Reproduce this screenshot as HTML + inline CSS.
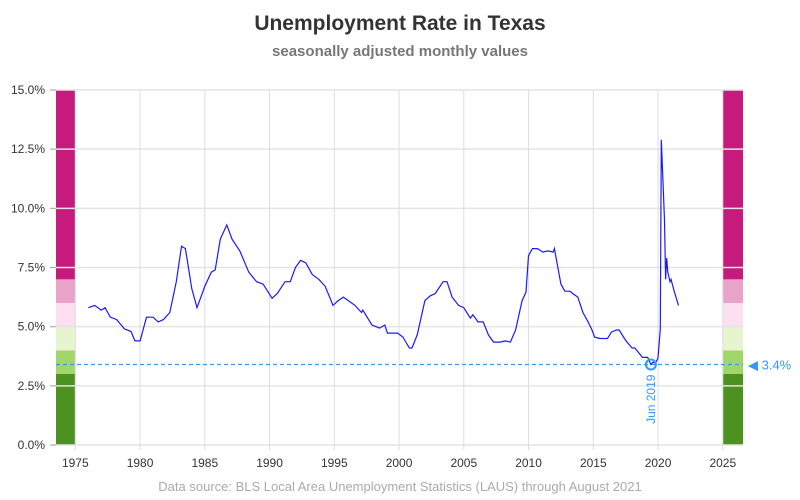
<!DOCTYPE html>
<html><head><meta charset="utf-8"><style>
body{margin:0;background:#fff}
svg{display:block;font-family:"Liberation Sans",sans-serif}
</style></head><body>
<svg id="chart" width="800" height="500" viewBox="0 0 800 500" xmlns="http://www.w3.org/2000/svg">
<text x="400" y="30" text-anchor="middle" font-size="21" font-weight="bold" fill="#333">Unemployment Rate in Texas</text>
<text x="400" y="56" text-anchor="middle" font-size="15" font-weight="bold" fill="#777">seasonally adjusted monthly values</text>
<g id="bands"></g>
<g id="grid"></g>
<g id="series"></g>
<text x="400" y="491" text-anchor="middle" font-size="13" fill="#aaa">Data source: BLS Local Area Unemployment Statistics (LAUS) through August 2021</text>
</svg>
<script>
const years=[1976.0,1976.5,1977.0,1977.3,1977.7,1978.2,1978.8,1979.3,1979.6,1980.0,1980.5,1981.0,1981.4,1981.8,1982.3,1982.8,1983.2,1983.5,1984.0,1984.4,1985.0,1985.5,1985.8,1986.2,1986.7,1987.1,1987.7,1988.4,1989.0,1989.5,1990.2,1990.6,1991.2,1991.6,1992.0,1992.4,1992.8,1993.3,1993.8,1994.3,1994.9,1995.3,1995.7,1996.6,1997.1,1997.2,1997.9,1998.5,1998.9,1999.1,1999.9,2000.3,2000.8,2001.0,2001.4,2002.0,2002.4,2002.8,2003.4,2003.7,2004.1,2004.6,2005.0,2005.5,2005.7,2006.1,2006.5,2006.9,2007.3,2007.8,2008.2,2008.6,2009.0,2009.5,2009.8,2010.0,2010.3,2010.7,2011.1,2011.5,2011.9,2012.0,2012.3,2012.5,2012.8,2013.2,2013.4,2013.8,2014.2,2014.6,2014.9,2015.1,2015.5,2015.9,2016.1,2016.4,2016.8,2017.0,2017.4,2017.6,2018.0,2018.2,2018.4,2018.8,2019.2,2019.45,2019.6,2019.8,2020.0,2020.17,2020.25,2020.5,2020.58,2020.67,2020.75,2020.92,2021.0,2021.25,2021.58];
const rates=[5.8,5.9,5.7,5.8,5.4,5.3,4.9,4.8,4.4,4.4,5.4,5.4,5.2,5.3,5.6,6.9,8.4,8.3,6.6,5.8,6.7,7.3,7.4,8.7,9.3,8.7,8.2,7.3,6.9,6.8,6.2,6.4,6.9,6.9,7.5,7.8,7.7,7.2,7.0,6.7,5.9,6.1,6.25,5.9,5.6,5.7,5.07,4.94,5.07,4.73,4.73,4.56,4.1,4.1,4.65,6.1,6.3,6.4,6.9,6.9,6.25,5.9,5.8,5.36,5.5,5.2,5.2,4.65,4.35,4.35,4.4,4.35,4.86,6.1,6.46,8.0,8.3,8.3,8.15,8.2,8.15,8.3,7.4,6.8,6.5,6.5,6.4,6.25,5.6,5.2,4.86,4.56,4.5,4.5,4.5,4.77,4.86,4.86,4.5,4.35,4.1,4.1,3.97,3.7,3.7,3.4,3.5,3.46,3.67,4.9,12.9,9.5,7.0,7.9,7.3,6.9,7.0,6.5,5.9];
const yTicks=[0,2.5,5,7.5,10,12.5,15];
const yTickLabels=["0.0%","2.5%","5.0%","7.5%","10.0%","12.5%","15.0%"];
const xTicks=[1975,1980,1985,1990,1995,2000,2005,2010,2015,2020,2025];
const bandEdges=[0,3,4,5,6,7,15];
const bandColors=["#4d9221","#a1d76a","#e6f5d0","#fde0ef","#e9a3c9","#c51b7d"];
const refValue=3.4, refYear=2019.45, refLabel="Jun 2019";
const NS="http://www.w3.org/2000/svg";
const X0=56,X1=743,Y0=445,Y1=90;
const sx=y=>75.3+(y-1975)*12.95;
const sy=v=>Y0-(v/15)*(Y0-Y1);
function mk(tag,attrs,parent,txt){const e=document.createElementNS(NS,tag);for(const k in attrs)e.setAttribute(k,attrs[k]);if(txt!==undefined)e.textContent=txt;parent.appendChild(e);return e;}
const grid=document.getElementById('grid'),bands=document.getElementById('bands'),ser=document.getElementById('series');
yTicks.forEach((t,i)=>{
 const l=mk('line',{x1:50,x2:X1,y1:sy(t),y2:sy(t),stroke:'#e4e4e4','stroke-width':1.5},grid);
 
 
 const tk=mk('line',{x1:50,x2:X0,y1:sy(t),y2:sy(t),stroke:'#aaa'},grid);
 
 
 const tx=mk('text',{x:45,y:sy(t)+4,'text-anchor':'end','font-size':12,fill:'#333'},grid,yTickLabels[i]);
 
 
});
xTicks.forEach(t=>{
 const l=mk('line',{x1:sx(t),x2:sx(t),y1:Y1,y2:Y0+5,stroke:'#ddd'},grid);
 
 
 const tx=mk('text',{x:sx(t),y:467,'text-anchor':'middle','font-size':12,fill:'#333'},grid,String(t));
 
 
});
for(let i=0;i<bandColors.length;i++){
 [[X0,sx(1975)],[sx(2025),X1]].forEach(([a,b])=>{
  const r=mk('rect',{x:a,y:sy(bandEdges[i+1]),width:b-a,height:sy(bandEdges[i])-sy(bandEdges[i+1]),fill:bandColors[i]},bands);
  
  
 });
}
const ref=mk('line',{x1:X0,x2:X1,y1:sy(refValue),y2:sy(refValue),stroke:'#3399ff','stroke-width':1.2,'stroke-dasharray':'4,3'},ser);


const pts=years.map((y,i)=>sx(y).toFixed(1)+','+sy(rates[i]).toFixed(1)).join(' ');
const pl=mk('polyline',{points:pts,fill:'none',stroke:'#1a1aff','stroke-width':1.2},ser);


const c=mk('circle',{cx:sx(refYear),cy:sy(refValue),r:5,fill:'none',stroke:'#3399ff','stroke-width':2},ser);


const rl=mk('text',{x:0,y:0,'text-anchor':'end','font-size':12,fill:'#3399ff',transform:`translate(${sx(refYear)+4},${sy(refValue)+10}) rotate(-90)`},ser,refLabel);


const vl=mk('text',{x:748,y:sy(refValue)+5,'font-size':13,fill:'#3399ff'},ser,'◀ '+refValue+'%');


</script>
</body></html>
